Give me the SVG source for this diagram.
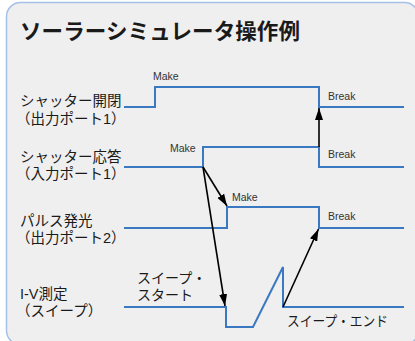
<svg xmlns="http://www.w3.org/2000/svg" width="415" height="341" viewBox="0 0 415 341">
<defs>
<marker id="ah" viewBox="0 0 12 8" refX="12" refY="4" markerWidth="12" markerHeight="8" markerUnits="userSpaceOnUse" orient="auto">
<path d="M0,0 L12,4 L0,8 Z" fill="#000"/>
</marker>
<style>
.jp{font-family:"Liberation Sans","Noto Sans CJK JP",sans-serif;fill:#1a1a1a}
.lbl{font-size:14.5px}
.sm{font-family:"Liberation Sans",Arial,sans-serif;font-size:10.5px;fill:#333}
.wave{fill:none;stroke:#3a78c2;stroke-width:2}
.arr{fill:none;stroke:#000;stroke-width:1.6;marker-end:url(#ah)}
</style>
</defs>
<rect x="6.5" y="2.5" width="412" height="342" rx="14" fill="#efefef" stroke="#a6c0e6" stroke-width="1.5"/>
<text class="jp" x="20" y="39" font-size="21.5" font-weight="bold" textLength="280">ソーラーシミュレータ操作例</text>

<g id="shutter-open">
<text class="jp lbl"><tspan x="20" y="106">シャッター開閉</tspan><tspan x="16" y="124">（出力ポート1）</tspan></text>
<path class="wave" d="M124,107 H155 V87 H319 V107 H404"/>
<text class="sm" x="153" y="80">Make</text>
<text class="sm" x="328" y="100">Break</text>
</g>

<g id="shutter-resp">
<text class="jp lbl"><tspan x="20" y="162">シャッター応答</tspan><tspan x="16" y="179">（入力ポート1）</tspan></text>
<path class="wave" d="M124,167 H203 V147 H319 V167 H404"/>
<text class="sm" x="170" y="152">Make</text>
<text class="sm" x="328" y="158">Break</text>
</g>

<g id="pulse">
<text class="jp lbl"><tspan x="20" y="226">パルス発光</tspan><tspan x="16" y="243">（出力ポート2）</tspan></text>
<path class="wave" d="M124,228 H227 V207 H319 V228 H404"/>
<text class="sm" x="232" y="201">Make</text>
<text class="sm" x="328" y="220">Break</text>
</g>

<g id="iv">
<text class="jp lbl"><tspan x="20" y="299">I-V測定</tspan><tspan x="16" y="316">（スイープ）</tspan></text>
<path class="wave" d="M124,307 H226 V327 H253 L283,267 V307 H404"/>
<text class="jp" font-size="14"><tspan x="137" y="283">スイープ・</tspan><tspan x="137" y="300">スタート</tspan></text>
<text class="jp" x="287" y="326" font-size="14" textLength="101" lengthAdjust="spacingAndGlyphs">スイープ・エンド</text>
</g>

<g id="connectors">
<line class="arr" x1="319" y1="147" x2="319" y2="108"/>
<line class="arr" x1="203" y1="167" x2="227" y2="206"/>
<line class="arr" x1="203" y1="167" x2="225" y2="306"/>
<line class="arr" x1="283" y1="307" x2="318.5" y2="229"/>
</g>
</svg>
